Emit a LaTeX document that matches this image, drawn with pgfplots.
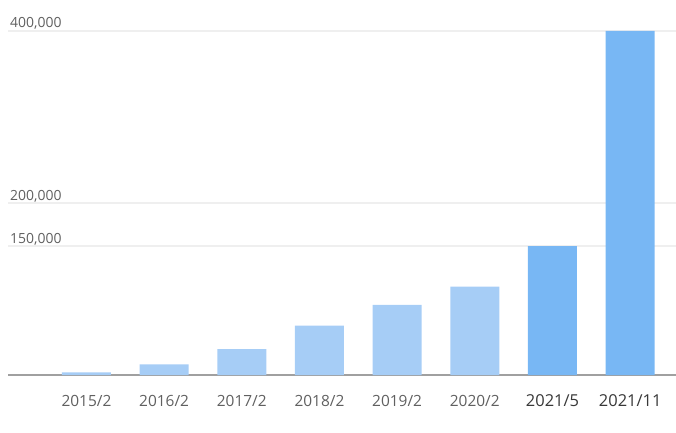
\documentclass[border=0pt]{standalone}
\usepackage{pgfplots}
\pgfplotsset{compat=1.18}
\usepackage{fontspec}
\setmainfont{Open Sans}
\definecolor{barlight}{HTML}{A6CDF6}
\definecolor{bardark}{HTML}{78B7F4}
\definecolor{gridc}{HTML}{EFEFEF}
\definecolor{axisc}{HTML}{A0A0A0}
\definecolor{labc}{HTML}{606060}
\definecolor{labdark}{HTML}{383838}
\begin{document}
\begin{tikzpicture}
\path[use as bounding box] (-8bp,-58bp) rectangle (668bp,375bp);
\begin{axis}[
    at={(0,0)}, anchor=south west,
    scale only axis,
    width=668bp, height=344bp,
    ybar, bar width=49bp, bar shift=0pt,
    xmin=-1.01, xmax=7.59,
    ymin=0, ymax=400000,
    scaled y ticks=false,
    axis y line*=left,
    y axis line style={draw=none},
    axis x line*=bottom,
    x axis line style={draw=axisc, line width=1.6pt},
    xtick={0,1,2,3,4,5,6,7},
    xticklabels={2015/2,2016/2,2017/2,2018/2,2019/2,2020/2,
        {\color{labdark}\fontsize{16.5}{18}\selectfont 2021/5},
        {\color{labdark}\fontsize{16.5}{18}\selectfont 2021/11}},
    xticklabel style={anchor=base, yshift=-31bp, inner sep=0pt,
        font=\fontsize{15.5}{18}\selectfont, text=labc},
    ytick={150000,200000,400000},
    yticklabels={{150,000},{200,000},{400,000}},
    yticklabel style={anchor=base west, xshift=2bp, yshift=3bp, inner sep=0pt,
        font=\fontsize{14}{16}\selectfont, text=labc},
    major tick length=0pt,
    ymajorgrids,
    grid style={draw=gridc, line width=1.2pt},
]
\addplot[fill=barlight, draw=none] coordinates {
    (0, 3100)
    (1, 12400)
    (2, 30200)
    (3, 57300)
    (4, 81400)
    (5, 102700)
};
\addplot[fill=bardark, draw=none] coordinates {
    (6, 150000)
    (7, 400000)
};
\end{axis}
\end{tikzpicture}
\end{document}
